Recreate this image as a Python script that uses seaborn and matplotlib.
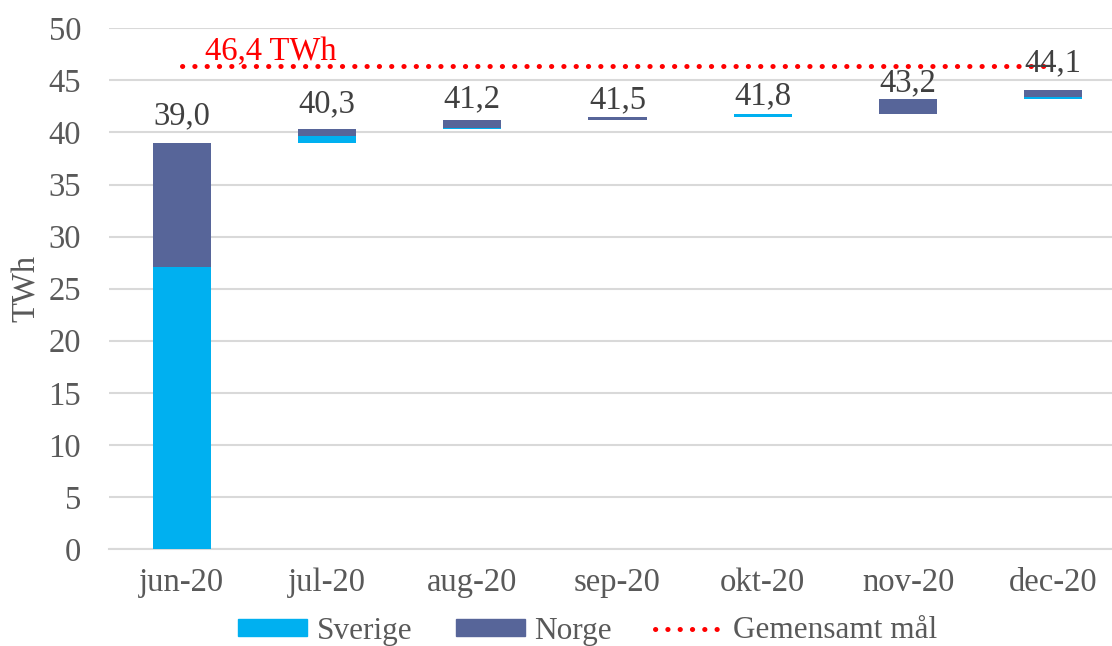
import matplotlib
matplotlib.use("Agg")
import numpy as np
import pandas as pd
import matplotlib.pyplot as plt
import seaborn as sns
from matplotlib.patches import Patch
from matplotlib.lines import Line2D

# data
months = ["jun-20", "jul-20", "aug-20", "sep-20", "okt-20", "nov-20", "dec-20"]
sverige = [27.1, 0.7, 0.1, 0.0, 0.3, 0.0, 0.2]
norge = [11.9, 0.6, 0.8, 0.3, 0.0, 1.4, 0.7]
goal = [46.4] * 7
goal_label = "46,4 TWh"

# waterfall bases
step = np.array(sverige) + np.array(norge)
total = np.cumsum(step)
base_s = total - step
base_n = base_s + np.array(sverige)
df = pd.DataFrame({"month": months, "sverige": sverige, "norge": norge})

sns.set_style("white")
plt.rcParams["font.family"] = ["Liberation Serif", "DejaVu Serif"]

c_sve = "#00B0F0"
c_nor = "#576599"
grey = "#595959"
fs = 23.5
fs_leg = 22.5

fig = plt.figure(figsize=(11.12, 6.46), dpi=100)
ax = fig.add_axes([109 / 1112, 1 - 549 / 646, 1017 / 1112, (549 - 28.3) / 646])

sns.barplot(data=df, x="month", y="sverige", bottom=base_s, color=c_sve,
            width=0.4, errorbar=None, saturation=1, linewidth=0, ax=ax, zorder=3)
sns.barplot(data=df, x="month", y="norge", bottom=base_n, color=c_nor,
            width=0.4, errorbar=None, saturation=1, linewidth=0, ax=ax, zorder=3)

sns.lineplot(x=months, y=goal, sort=False, color="red", lw=3.6,
             linestyle=(0, (0.05, 2.41)), dash_capstyle="round", ax=ax, zorder=4)

ax.annotate(goal_label, (0, goal[0]), xytext=(23, 6), textcoords="offset pixels",
            color="red", fontsize=fs, ha="left", va="baseline", zorder=5)

# data labels (gap in px above the bar top)
label_gap = [19, 17, 13, 9, 9, 8, 18]
for i, t in enumerate(total):
    ax.annotate(f"{t:.1f}".replace(".", ","), (i, t), xytext=(0, label_gap[i]),
                textcoords="offset pixels", ha="center", va="baseline",
                fontsize=fs, color="#404040", zorder=5)

ax.set_xlim(-0.5, 6.5)
ax.set_ylim(0, 50)
ax.set_yticks(range(0, 51, 5))
ax.yaxis.grid(True, color="#D9D9D9", lw=1.5, zorder=0)
ax.set_axisbelow(True)
for s in ["top", "right", "left"]:
    ax.spines[s].set_visible(False)
ax.spines["bottom"].set_color("#D9D9D9")
ax.spines["bottom"].set_linewidth(1.5)

ax.set_xticks(np.arange(-0.5, 7, 1), minor=True)
ax.tick_params(axis="x", which="minor", length=6.5, width=1.5, color="#D9D9D9")
ax.tick_params(axis="x", which="major", length=0, pad=13, labelsize=fs, labelcolor=grey)
ax.tick_params(axis="y", length=0, pad=20, labelsize=fs, labelcolor=grey)
ax.set_xlabel("")
ax.set_ylabel("TWh", fontsize=fs, color=grey, labelpad=5)

handles = [Patch(color=c_sve, label="Sverige"),
           Patch(color=c_nor, label="Norge"),
           Line2D([], [], color="red", lw=3.6, linestyle=(0, (0.05, 2.41)),
                  dash_capstyle="round", label="Gemensamt mål")]
fig.legend(handles=handles, loc="center", bbox_to_anchor=(588 / 1112, 1 - 631 / 646),
           ncol=3, frameon=False, fontsize=fs_leg, labelcolor=grey,
           handlelength=2.2, handleheight=0.5, handletextpad=0.3,
           columnspacing=1.4, borderaxespad=0, borderpad=0)

fig.savefig("out.png", dpi=100)
